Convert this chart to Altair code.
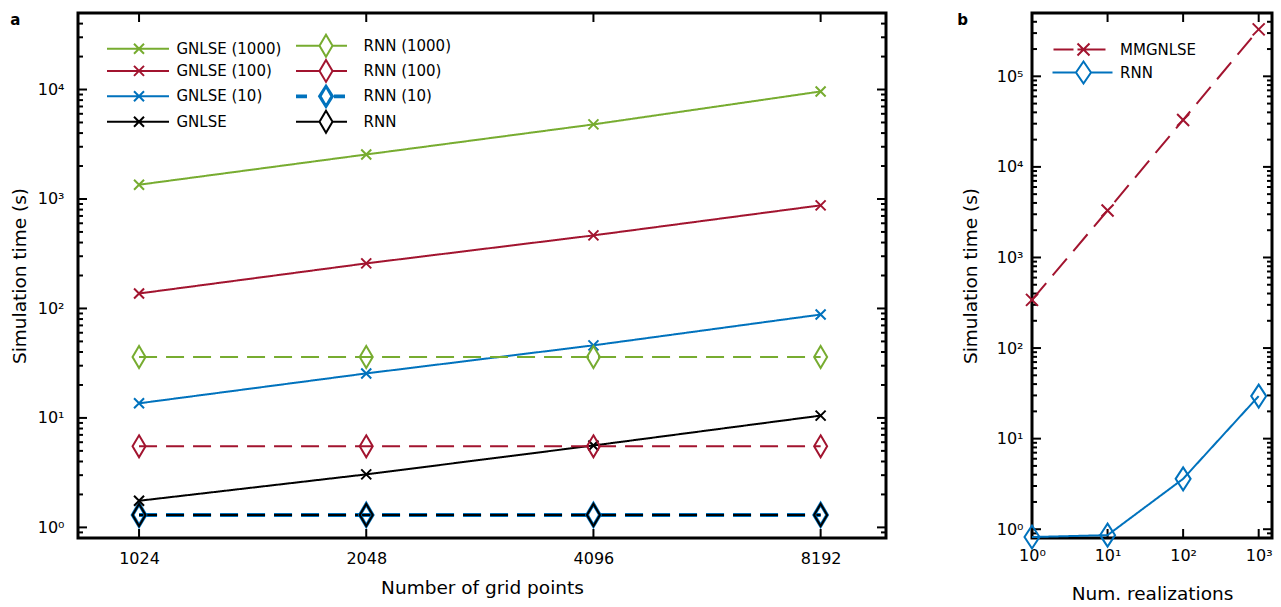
import altair as alt
import pandas as pd

FONT = "DejaVu Sans"

# ---------------- panel a: time vs. number of grid points ----------------
grid_points = [1024, 2048, 4096, 8192]
gnlse_1000 = [1350, 2550, 4800, 9600]
gnlse_100 = [137, 258, 465, 875]
gnlse_10 = [13.6, 25.5, 46, 88]
gnlse_single = [1.75, 3.05, 5.6, 10.5]
rnn_1000 = [36, 36, 36, 36]
rnn_100 = [5.5, 5.5, 5.5, 5.5]
rnn_10 = [1.3, 1.3, 1.3, 1.3]
rnn_single = [1.3, 1.3, 1.3, 1.3]

names_a = ["GNLSE (1000)", "GNLSE (100)", "GNLSE (10)", "GNLSE",
           "RNN (1000)", "RNN (100)", "RNN (10)", "RNN"]
values_a = [gnlse_1000, gnlse_100, gnlse_10, gnlse_single,
            rnn_1000, rnn_100, rnn_10, rnn_single]

# ---------------- panel b: time vs. number of realizations ----------------
realizations = [1, 10, 100, 1000]
mmgnlse = [340, 3300, 33000, 330000]
rnn_real = [0.82, 0.86, 3.6, 29.5]
names_b = ["MMGNLSE", "RNN"]
values_b = [mmgnlse, rnn_real]

# ---------------- axes ----------------
major_a_x = grid_points
major_a_y = [1, 10, 100, 1000, 10000]
major_b_x = [1, 10, 100, 1000]
major_b_y = [1, 10, 100, 1000, 10000, 100000]


def minor_ticks(lo, hi, decades):
    return [m * 10.0 ** d for d in decades for m in range(2, 10)
            if lo < m * 10.0 ** d < hi]


minor_a_y = minor_ticks(0.8, 5e4, range(-1, 5))
minor_b_y = minor_ticks(0.8, 5e5, range(-1, 6))

GREEN, RED, BLUE, BLACK = "#77AC30", "#A2142F", "#0072BD", "#000000"
color_of = {"GNLSE (1000)": GREEN, "GNLSE (100)": RED, "GNLSE (10)": BLUE, "GNLSE": BLACK,
            "RNN (1000)": GREEN, "RNN (100)": RED, "RNN (10)": BLUE, "RNN": BLACK,
            "MMGNLSE": RED}

# marker outlines (size=4 makes one path unit equal one pixel)
CROSS_A = "M-5,-5L5,5M-5,5L5,-5"
DIAMOND_A = "M0,-11L6.5,0L0,11L-6.5,0Z"
CROSS_B = "M-6,-6L6,6M-6,6L6,-6"
DIAMOND_B = "M0,-11.5L7.5,0L0,11.5L-7.5,0Z"

# legend glyphs: line sample with marker
LEG_GNLSE = "M-32,0H30" + CROSS_A
LEG_RNN = "M-30,0H-6.5M6.5,0H21" + DIAMOND_A
LEG_RNN_THICK = ("M-30,-0.9H-19M-30,0.9H-19M8,-0.9H19M8,0.9H19"
                 "M0,-11L7,0L0,11L-7,0Z"
                 "M0,-9.2L5.4,0L0,9.2L-5.4,0Z")
LEG_MMGNLSE = "M-30,0H-10M-6,0H22" + CROSS_B
LEG_RNN_B = "M-31,0H-7.5M7.5,0H29M0,-11L7.5,0L0,11L-7.5,0Z"

W_A, H_A = 808, 525
W_B, H_B = 240, 525

SUP = "['\u2070','\u00b9','\u00b2','\u00b3','\u2074','\u2075']"
POW_LABEL = "'10' + " + SUP + "[round(log(datum.value) / LN10)]"

xs_a = alt.Scale(type="log", base=2, domain=[850, 10000], nice=False)
ys_a = alt.Scale(type="log", domain=[0.8, 5e4], nice=False)
xs_b = alt.Scale(type="log", domain=[1, 1500], nice=False)
ys_b = alt.Scale(type="log", domain=[0.8, 5e5], nice=False)


def axis(values, label_pad, title_pad, label_expr=None, fmt=None):
    kw = dict(values=values, ticks=False, tickSize=0, domain=False, grid=False,
              labelFont=FONT, labelFontSize=16, labelColor="black",
              labelPadding=label_pad, labelFlush=False, labelOverlap=False,
              titleFont=FONT, titleFontSize=18.5, titleFontWeight="normal",
              titleColor="black", titlePadding=title_pad)
    if label_expr:
        kw["labelExpr"] = label_expr
    if fmt:
        kw["format"] = fmt
    return alt.Axis(**kw)


AX_A_X = axis(major_a_x, 12, 12, fmt="d")
AX_A_Y = axis(major_a_y, 14, 8, label_expr=POW_LABEL)
AX_B_X = axis(major_b_x, 9, 21, label_expr=POW_LABEL)
AX_B_Y = axis(major_b_y, 9, 16, label_expr=POW_LABEL)

TITLE_A_X = "Number of grid points"
TITLE_Y = "Simulation time (s)"
TITLE_B_X = "Num. realizations"


def tick_rules(values, enc_pos, channel, side, length, width, height, sw=2):
    base = alt.Chart(pd.DataFrame({"v": values})).mark_rule(color="black", strokeWidth=sw)
    if channel == "y":
        enc = {"y": enc_pos("v")}
        if side == "left":
            enc.update(x=alt.value(0), x2=alt.value(length))
        else:
            enc.update(x=alt.value(width - length), x2=alt.value(width))
    else:
        enc = {"x": enc_pos("v")}
        if side == "bottom":
            enc.update(y=alt.value(height - length), y2=alt.value(height))
        else:
            enc.update(y=alt.value(0), y2=alt.value(length))
    return base.encode(**enc)


def frame_ticks(xmaj, ymaj, ymin, enc_x, enc_y, width, height):
    layers = []
    for side in ("bottom", "top"):
        layers.append(tick_rules(xmaj, enc_x, "x", side, 9, width, height))
    for side in ("left", "right"):
        layers.append(tick_rules(ymaj, enc_y, "y", side, 9, width, height))
        layers.append(tick_rules(ymin, enc_y, "y", side, 5, width, height))
    return layers


# ---------------- panel a ----------------
def xa(field):
    return alt.X(f"{field}:Q", scale=xs_a, axis=AX_A_X, title=TITLE_A_X)


def ya(field):
    return alt.Y(f"{field}:Q", scale=ys_a, axis=AX_A_Y, title=TITLE_Y)


df_a = pd.DataFrame([{"series": s, "n": n, "t": t}
                     for s, vals in zip(names_a, values_a)
                     for n, t in zip(grid_points, vals)])

thin_names = [s for s in names_a if s != "RNN (10)"]
dash_a = {s: ([18, 9] if s.startswith("RNN") else [1, 0]) for s in names_a}
marker_a = {s: (DIAMOND_A if s.startswith("RNN") else CROSS_A) for s in names_a}

thick_line_a = alt.Chart(df_a).transform_filter("datum.series == 'RNN (10)'").mark_line(
    color=BLUE, strokeWidth=4, strokeDash=[18, 9]).encode(x=xa("n"), y=ya("t"))

lines_a = alt.Chart(df_a).transform_filter("datum.series != 'RNN (10)'").mark_line(
    strokeWidth=2).encode(
    x=xa("n"), y=ya("t"),
    color=alt.Color("series:N", scale=alt.Scale(domain=thin_names, range=[color_of[s] for s in thin_names]), legend=None),
    strokeDash=alt.StrokeDash("series:N", scale=alt.Scale(domain=thin_names, range=[dash_a[s] for s in thin_names]), legend=None),
)

thick_pts_a = alt.Chart(df_a).transform_filter("datum.series == 'RNN (10)'").mark_point(
    filled=False, size=4, strokeWidth=3.5, opacity=1, color=BLUE, shape=DIAMOND_A).encode(
    x=xa("n"), y=ya("t"))

pts_a = alt.Chart(df_a).transform_filter("datum.series != 'RNN (10)'").mark_point(
    filled=False, size=4, strokeWidth=2, opacity=1).encode(
    x=xa("n"), y=ya("t"),
    color=alt.Color("series:N", scale=alt.Scale(domain=thin_names, range=[color_of[s] for s in thin_names]), legend=None),
    shape=alt.Shape("series:N", scale=alt.Scale(domain=thin_names, range=[marker_a[s] for s in thin_names]), legend=None),
)

# legend: GNLSE runs in the first column, RNN runs in the second
legend_glyph_a = {"GNLSE (1000)": LEG_GNLSE, "GNLSE (100)": LEG_GNLSE,
                  "GNLSE (10)": LEG_GNLSE, "GNLSE": LEG_GNLSE,
                  "RNN (1000)": LEG_RNN, "RNN (100)": LEG_RNN,
                  "RNN (10)": LEG_RNN_THICK, "RNN": LEG_RNN}

leg_a = alt.Legend(title=None, orient="none", legendX=53.5, legendY=25, columns=2,
                   symbolSize=4, symbolStrokeWidth=2, symbolOffset=0,
                   labelFont=FONT, labelFontSize=15, labelColor="black", labelOffset=30,
                   rowPadding=-5.6, columnPadding=10, padding=0, labelLimit=300)

legend_layer_a = alt.Chart(pd.DataFrame({"series": names_a})).transform_filter(
    "false").mark_point(filled=False, size=4, strokeWidth=2, opacity=1).encode(
    color=alt.Color("series:N", scale=alt.Scale(domain=names_a, range=[color_of[s] for s in names_a]), legend=leg_a),
    shape=alt.Shape("series:N", scale=alt.Scale(domain=names_a, range=[legend_glyph_a[s] for s in names_a]), legend=leg_a),
)

panel_a = alt.layer(
    *frame_ticks(major_a_x, major_a_y, minor_a_y, xa, ya, W_A, H_A),
    thick_line_a, lines_a, thick_pts_a, pts_a, legend_layer_a,
).resolve_scale(color="independent", shape="independent", strokeDash="independent").properties(
    width=W_A, height=H_A,
    title=alt.TitleParams("a", anchor="start", frame="bounds", font=FONT, fontSize=15,
                          fontWeight="bold", baseline="top", offset=-16, color="black"),
)


# ---------------- panel b ----------------
def xb(field):
    return alt.X(f"{field}:Q", scale=xs_b, axis=AX_B_X, title=TITLE_B_X)


def yb(field):
    return alt.Y(f"{field}:Q", scale=ys_b, axis=AX_B_Y, title=TITLE_Y)


df_b = pd.DataFrame([{"series": s, "k": k, "t": t}
                     for s, vals in zip(names_b, values_b)
                     for k, t in zip(realizations, vals)])

colors_b = [RED, BLUE]

lines_b = alt.Chart(df_b).mark_line(strokeWidth=2).encode(
    x=xb("k"), y=yb("t"),
    color=alt.Color("series:N", scale=alt.Scale(domain=names_b, range=colors_b), legend=None),
    strokeDash=alt.StrokeDash("series:N", scale=alt.Scale(domain=names_b, range=[[22, 10], [1, 0]]), legend=None),
)

pts_b = alt.Chart(df_b).mark_point(filled=False, size=4, strokeWidth=2, opacity=1).encode(
    x=xb("k"), y=yb("t"),
    color=alt.Color("series:N", scale=alt.Scale(domain=names_b, range=colors_b), legend=None),
    shape=alt.Shape("series:N", scale=alt.Scale(domain=names_b, range=[CROSS_B, DIAMOND_B]), legend=None),
)

leg_b = alt.Legend(title=None, orient="none", legendX=44, legendY=29,
                   symbolSize=4, symbolStrokeWidth=2, symbolOffset=0,
                   labelFont=FONT, labelFontSize=15, labelColor="black", labelOffset=29,
                   rowPadding=-3, padding=0, labelLimit=300)

legend_layer_b = alt.Chart(pd.DataFrame({"series": names_b})).transform_filter(
    "false").mark_point(filled=False, size=4, strokeWidth=2, opacity=1).encode(
    color=alt.Color("series:N", scale=alt.Scale(domain=names_b, range=colors_b), legend=leg_b),
    shape=alt.Shape("series:N", scale=alt.Scale(domain=names_b, range=[LEG_MMGNLSE, LEG_RNN_B]), legend=leg_b),
)

panel_b = alt.layer(
    *frame_ticks(major_b_x, major_b_y, minor_b_y, xb, yb, W_B, H_B),
    lines_b, pts_b, legend_layer_b,
).resolve_scale(color="independent", shape="independent", strokeDash="independent").properties(
    width=W_B, height=H_B,
    title=alt.TitleParams("b", anchor="start", frame="bounds", font=FONT, fontSize=15,
                          fontWeight="bold", baseline="top", offset=-16, dx=-4, color="black"),
)

chart = alt.hconcat(panel_a, panel_b, spacing=66).properties(
    padding={"left": 8, "top": 10, "right": 5, "bottom": 5}
).configure(font=FONT).configure_view(stroke="black", strokeWidth=3)

chart.save("out.html", embed_options={"renderer": "svg", "actions": False})
